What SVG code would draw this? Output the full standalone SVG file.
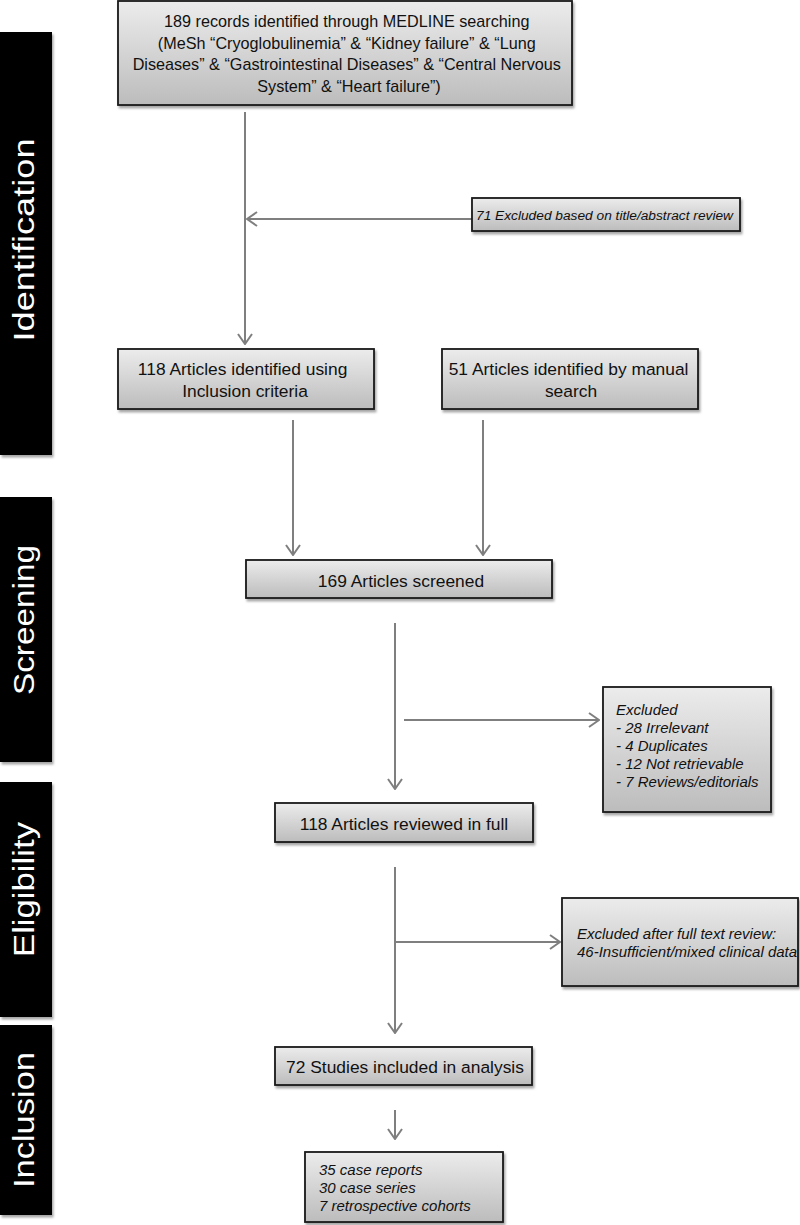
<svg xmlns="http://www.w3.org/2000/svg" width="800" height="1225" viewBox="0 0 800 1225">
<defs>
<linearGradient id="g" x1="0" y1="0" x2="0" y2="1">
<stop offset="0" stop-color="#ececec"/>
<stop offset="1" stop-color="#bcbcbc"/>
</linearGradient>
<filter id="sh" x="-5%" y="-10%" width="115%" height="130%">
<feDropShadow dx="1.5" dy="2.5" stdDeviation="1.2" flood-color="#000" flood-opacity="0.35"/>
</filter>
<marker id="ah" viewBox="0 0 12 16" refX="11" refY="8" markerWidth="12" markerHeight="16" markerUnits="userSpaceOnUse" orient="auto">
<path d="M1,1 L11,8 L1,15" fill="none" stroke="#7f7f7f" stroke-width="2"/>
</marker>
</defs>
<style>
.box{fill:url(#g);stroke:#1a1a1a;stroke-width:1.8;filter:url(#sh)}
.ban{fill:#000;filter:url(#sh)}
.t{font-family:"Liberation Sans",Arial,Helvetica,sans-serif;fill:#111;font-size:17.4px}
.tt{font-family:"Liberation Sans",Arial,Helvetica,sans-serif;fill:#111;font-size:16.2px}
.i{font-family:"Liberation Sans",Arial,Helvetica,sans-serif;fill:#111;font-size:15px;font-style:italic}
.bt{font-family:"Liberation Sans",Arial,Helvetica,sans-serif;fill:#fff;font-size:29px}
.c{fill:none;stroke:#7f7f7f;stroke-width:2}
</style>

<g id="banner-identification">
<rect class="ban" x="0" y="32" width="52" height="423"/>
<text class="bt" x="34" y="240" text-anchor="middle" transform="rotate(-90 34 240)" textLength="203" lengthAdjust="spacingAndGlyphs">Identification</text>
</g>
<g id="banner-screening">
<rect class="ban" x="0" y="497" width="52" height="265"/>
<text class="bt" x="34" y="620" text-anchor="middle" transform="rotate(-90 34 620)" textLength="150" lengthAdjust="spacingAndGlyphs">Screening</text>
</g>
<g id="banner-eligibility">
<rect class="ban" x="0" y="782" width="52" height="235"/>
<text class="bt" x="34" y="889.5" text-anchor="middle" transform="rotate(-90 34 889.5)" textLength="135" lengthAdjust="spacingAndGlyphs">Eligibility</text>
</g>
<g id="banner-inclusion">
<rect class="ban" x="0" y="1025" width="52" height="190"/>
<text class="bt" x="34" y="1120" text-anchor="middle" transform="rotate(-90 34 1120)" textLength="136" lengthAdjust="spacingAndGlyphs">Inclusion</text>
</g>

<g id="connectors">
<line class="c" x1="245" y1="112" x2="245" y2="344" marker-end="url(#ah)"/>
<line class="c" x1="472" y1="219" x2="247" y2="219" marker-end="url(#ah)"/>
<line class="c" x1="293" y1="420" x2="293" y2="555" marker-end="url(#ah)"/>
<line class="c" x1="483" y1="420" x2="483" y2="555" marker-end="url(#ah)"/>
<line class="c" x1="395" y1="623" x2="395" y2="789" marker-end="url(#ah)"/>
<line class="c" x1="404" y1="720" x2="599" y2="720" marker-end="url(#ah)"/>
<line class="c" x1="395" y1="867" x2="395" y2="1033" marker-end="url(#ah)"/>
<line class="c" x1="395" y1="942" x2="560" y2="942" marker-end="url(#ah)"/>
<line class="c" x1="395" y1="1110" x2="395" y2="1139" marker-end="url(#ah)"/>
</g>

<g id="node-records">
<rect class="box" x="118" y="1" width="454" height="104"/>
<text class="tt" text-anchor="middle">
<tspan x="349" y="27">189 records identified through MEDLINE searching</tspan>
<tspan x="349" y="48.5">(MeSh “Cryoglobulinemia” &amp; “Kidney failure” &amp; “Lung</tspan>
<tspan x="349" y="70">Diseases” &amp; “Gastrointestinal Diseases” &amp; “Central Nervous</tspan>
<tspan x="349" y="92">System” &amp; “Heart failure”)</tspan>
</text>
</g>

<g id="node-excluded-title">
<rect class="box" x="472" y="198" width="268" height="33"/>
<text class="i" x="476" y="220" font-size="13.7px" textLength="257" lengthAdjust="spacingAndGlyphs" style="font-size:13.7px">71 Excluded based on title/abstract review</text>
</g>

<g id="node-inclusion-criteria">
<rect class="box" x="118" y="349" width="256" height="60"/>
<text class="t" text-anchor="middle">
<tspan x="245" y="375">118 Articles identified using</tspan>
<tspan x="245" y="397">Inclusion criteria</tspan>
</text>
</g>

<g id="node-manual-search">
<rect class="box" x="442" y="349" width="256" height="60"/>
<text class="t" text-anchor="middle">
<tspan x="571" y="375">51 Articles identified by manual</tspan>
<tspan x="571" y="397">search</tspan>
</text>
</g>

<g id="node-screened">
<rect class="box" x="246" y="560" width="306" height="38"/>
<text class="t" x="401" y="586.5" text-anchor="middle">169 Articles screened</text>
</g>

<g id="node-excluded">
<rect class="box" x="603" y="687" width="168" height="125"/>
<text class="i">
<tspan x="616" y="715">Excluded</tspan>
<tspan x="616" y="733">- 28 Irrelevant</tspan>
<tspan x="616" y="751">- 4 Duplicates</tspan>
<tspan x="616" y="769">- 12 Not retrievable</tspan>
<tspan x="616" y="787">- 7 Reviews/editorials</tspan>
</text>
</g>

<g id="node-reviewed">
<rect class="box" x="275" y="803" width="258" height="39"/>
<text class="t" x="404" y="830" text-anchor="middle">118 Articles reviewed in full</text>
</g>

<g id="node-excluded-full">
<rect class="box" x="562" y="898" width="236" height="88"/>
<text class="i">
<tspan x="577" y="939">Excluded after full text review:</tspan>
<tspan x="577" y="957">46-Insufficient/mixed clinical data</tspan>
</text>
</g>

<g id="node-included">
<rect class="box" x="275" y="1047" width="257" height="38"/>
<text class="t" x="405" y="1073" text-anchor="middle">72 Studies included in analysis</text>
</g>

<g id="node-breakdown">
<rect class="box" x="305" y="1152" width="198" height="70"/>
<text class="i">
<tspan x="319" y="1175">35 case reports</tspan>
<tspan x="319" y="1193">30 case series</tspan>
<tspan x="319" y="1211">7 retrospective cohorts</tspan>
</text>
</g>
</svg>
